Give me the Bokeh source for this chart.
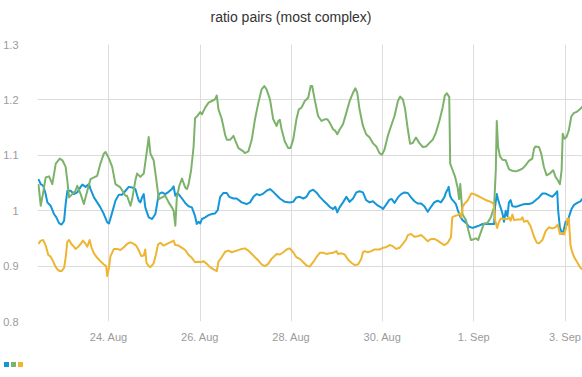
import pandas as pd
from bokeh.plotting import figure
from bokeh.layouts import column
from bokeh.models import (Range1d, FixedTicker, CustomJSTickFormatter, Div)
from bokeh.embed import file_html
from bokeh.resources import INLINE

TITLE = "ratio pairs (most complex)"
START = "2015-08-22 00:00"          # hours below are counted from here
VIEW_START_H = 10.5
VIEW_END_H = 297.2

blue_h = [11.0, 12.2, 13.5, 14.8, 15.7, 17.4, 19.2, 20.4, 21.9, 23.2, 24.5, 25.3, 26.2, 27.9, 29.7, 31.4, 33.2, 34.1, 35.8, 37.6,
          38.4, 40.2, 41.9, 43.6, 45.4, 47.2, 48.1, 49.8, 51.5, 53.3, 55.0, 56.8, 58.5, 60.3, 62.0, 62.9, 63.8, 64.6, 65.5, 66.4,
          67.2, 69.0, 70.8, 72.5, 74.3, 76.0, 77.7, 79.5, 81.2, 82.1, 83.0, 83.8, 84.7, 86.5, 88.2, 90.0, 91.7, 92.6, 93.4, 94.3,
          95.2, 96.1, 97.0, 98.7, 100.5, 102.2, 103.9, 105.3, 106.6, 108.3, 110.1, 111.3, 113.6, 115.3, 117.9, 120.5, 122.3, 124.1,
          125.8, 127.5, 129.3, 131.0, 132.8, 134.5, 136.3, 138.0, 140.6, 143.2, 145.0, 146.7, 148.5, 150.3, 152.0, 153.7, 155.5,
          157.2, 159.0, 160.7, 162.5, 164.2, 166.0, 167.2, 168.2, 169.4, 171.2, 173.0, 174.7, 176.5, 178.2, 179.9, 181.7, 183.4,
          185.2, 186.9, 189.6, 191.3, 192.2, 193.9, 195.7, 196.9, 198.3, 200.1, 201.8, 203.5, 205.3, 207.0, 208.8, 210.5, 212.3,
          214.0, 215.8, 217.5, 219.2, 221.0, 222.7, 224.5, 225.4, 226.3, 226.8, 227.5, 228.4, 229.7, 230.6, 231.5, 232.9, 234.1,
          235.9, 237.6, 239.4, 241.1, 242.8, 244.6, 246.3, 248.1, 249.8, 250.7, 251.2, 252.1, 252.8, 253.5, 254.2, 255.1, 255.9,
          256.8, 257.7, 258.5, 259.4, 260.3, 262.1, 263.8, 265.6, 267.3, 269.0, 270.8, 272.5, 274.3, 276.1, 277.8, 279.5, 281.3,
          283.0, 283.9, 284.4, 285.3, 286.5, 287.4, 288.3, 289.2, 290.0, 291.3, 292.6, 294.4, 296.1, 297.2]
blue_v = [1.057, 1.048, 1.045, 1.03, 1.015, 1.009, 0.994, 0.988, 0.977, 0.975, 0.982, 1.012, 1.036, 1.036, 1.03, 1.033, 1.043, 1.047, 1.043, 1.048,
          1.039, 1.024, 1.015, 1.006, 0.994, 0.979, 0.977, 0.997, 1.018, 1.029, 1.029, 1.036, 1.043, 1.042, 1.039, 1.028, 1.018, 1.015, 1.024, 1.03,
          1.006, 0.988, 0.985, 0.994, 1.03, 1.033, 1.03, 1.034, 1.039, 1.044, 1.027, 1.031, 1.03, 1.022, 1.014, 1.008, 1.006, 0.998, 0.99, 0.976,
          0.98, 0.977, 0.985, 0.988, 0.992, 0.994, 0.995, 1.001, 1.025, 1.032, 1.032, 1.025, 1.022, 1.022, 1.015, 1.012, 1.015, 1.025,
          1.03, 1.028, 1.031, 1.036, 1.039, 1.034, 1.028, 1.022, 1.016, 1.015, 1.016, 1.024, 1.025, 1.022, 1.025, 1.035, 1.038,
          1.033, 1.025, 1.019, 1.013, 1.007, 1.003, 1.007, 0.997, 1.006, 1.015, 1.025, 1.016, 1.022, 1.033, 1.035, 1.033, 1.019,
          1.015, 1.017, 1.009, 1.006, 1.003, 1.011, 1.02, 1.021, 1.014, 1.024, 1.03, 1.033, 1.032, 1.024, 1.017, 1.013, 1.013,
          1.008, 0.998, 1.007, 1.015, 1.018, 1.015, 1.024, 1.033, 1.039, 1.043, 1.027, 1.021, 1.016, 1.012, 1.002, 0.989, 0.983,
          0.978, 0.971, 0.969, 0.971, 0.973, 0.976, 0.976, 0.976, 0.976, 0.976, 1.007, 1.03, 1.02, 1.012, 1.005, 0.995, 0.98,
          1.0, 0.99, 1.015, 1.019, 1.008, 1.007, 1.009, 1.011, 1.012, 1.012, 1.014, 1.019, 1.024, 1.031, 1.031, 1.028, 1.025,
          1.031, 1.035, 1.0, 0.97, 0.958, 0.966, 0.98, 0.975, 0.988, 1.002, 1.01, 1.014, 1.017, 1.022]

green_h = [11.0, 12.2, 13.6, 14.8, 16.6, 18.3, 20.1, 22.2, 23.6, 25.3, 26.2, 27.1, 28.8, 30.5, 31.4, 33.2, 34.9, 36.7, 38.4, 40.2,
           41.9, 43.6, 45.4, 46.3, 48.1, 49.8, 51.5, 54.1, 56.8, 57.6, 59.4, 60.3, 62.0, 62.9, 64.6, 66.4, 68.1, 69.0, 69.9, 71.6,
           72.8, 74.3, 76.0, 77.7, 79.5, 81.2, 82.1, 83.0, 83.8, 85.1, 86.5, 88.2, 89.1, 90.0, 91.3, 92.6, 93.4, 94.3, 96.1, 97.0,
           98.7, 100.5, 102.2, 103.9, 104.8, 105.7, 107.4, 109.2, 110.1, 111.8, 113.6, 114.4, 116.2, 118.8, 119.6, 121.4, 123.2,
           124.9, 126.7, 128.4, 129.8, 131.0, 132.8, 134.5, 136.3, 137.2, 138.0, 138.9, 140.6, 142.4, 143.6, 145.0, 146.7, 148.0,
           149.4, 151.1, 152.9, 154.2, 155.0, 156.3, 158.1, 159.9, 161.6, 163.0, 164.2, 166.0, 167.2, 168.2, 169.4, 171.2, 173.0,
           174.7, 176.5, 177.7, 178.7, 179.9, 181.7, 183.4, 185.2, 186.9, 188.7, 190.4, 191.7, 193.0, 194.8, 196.5, 198.3, 200.1,
           201.3, 202.7, 203.9, 205.3, 206.5, 207.9, 209.6, 211.4, 213.2, 214.9, 216.6, 218.4, 220.1, 221.9, 223.6, 224.8, 225.9,
           227.1, 227.6, 228.9, 230.2, 231.5, 232.3, 232.9, 233.6, 234.1, 235.9, 237.1, 238.5, 239.5, 241.1, 242.3, 243.7, 245.4,
           247.2, 249.0, 250.7, 251.6, 252.1, 252.8, 253.8, 255.1, 256.8, 258.5, 260.3, 262.1, 263.8, 265.6, 267.3, 269.0, 270.8,
           271.7, 272.5, 274.3, 275.5, 276.9, 278.3, 280.0, 281.8, 283.0, 284.2, 285.3, 286.2, 286.8, 287.7, 288.8, 290.0, 291.3,
           292.6, 294.4, 295.8, 297.2]
green_v = [1.048, 1.009, 1.035, 1.06, 1.062, 1.048, 1.085, 1.094, 1.091, 1.079, 1.054, 1.024, 1.03, 1.036, 1.045, 1.03, 1.012, 1.036, 1.057, 1.06,
           1.063, 1.085, 1.103, 1.106, 1.094, 1.079, 1.048, 1.042, 1.027, 1.027, 1.009, 1.021, 1.055, 1.067, 1.061, 1.067, 1.109, 1.133, 1.103, 1.091,
           1.061, 1.021, 1.024, 1.027, 1.015, 1.006, 1.0, 0.973, 1.024, 1.045, 1.058, 1.042, 1.039, 1.048, 1.073, 1.115, 1.167, 1.17, 1.178, 1.174,
           1.186, 1.195, 1.198, 1.201, 1.208, 1.183, 1.166, 1.137, 1.128, 1.128, 1.135, 1.128, 1.113, 1.107, 1.104, 1.107, 1.128,
           1.165, 1.195, 1.219, 1.225, 1.219, 1.201, 1.165, 1.153, 1.162, 1.164, 1.147, 1.125, 1.113, 1.113, 1.128, 1.165, 1.183,
           1.186, 1.198, 1.204, 1.225, 1.225, 1.201, 1.171, 1.162, 1.165, 1.165, 1.159, 1.147, 1.144, 1.138, 1.146, 1.156, 1.177,
           1.198, 1.213, 1.221, 1.213, 1.183, 1.153, 1.138, 1.132, 1.122, 1.116, 1.104, 1.101, 1.11, 1.135, 1.153, 1.171, 1.198,
           1.206, 1.201, 1.183, 1.147, 1.121, 1.122, 1.132, 1.122, 1.115, 1.116, 1.122, 1.128, 1.141, 1.162, 1.186, 1.208, 1.212,
           1.205, 1.085, 1.073, 1.061, 1.042, 1.021, 1.048, 1.016, 0.993, 0.983, 0.965, 0.947, 0.948, 0.95, 0.947, 0.961, 0.977,
           0.978, 0.988, 1.007, 1.074, 1.162, 1.115, 1.098, 1.092, 1.091, 1.075, 1.072, 1.071, 1.073, 1.076, 1.082, 1.09, 1.094,
           1.112, 1.116, 1.115, 1.103, 1.079, 1.064, 1.067, 1.073, 1.061, 1.055, 1.048, 1.073, 1.139, 1.13, 1.133, 1.145, 1.17,
           1.176, 1.179, 1.183, 1.188]

yellow_h = [11.0, 12.2, 13.5, 14.8, 16.2, 17.4, 18.7, 19.8, 21.0, 22.2, 23.2, 24.5, 25.3, 26.2, 27.1, 28.3, 29.7, 30.5, 32.0, 33.2,
            34.4, 35.8, 36.7, 37.9, 38.9, 40.2, 41.9, 43.6, 45.4, 46.6, 47.2, 48.1, 48.9, 50.7, 52.4, 54.1, 55.9, 57.6, 59.4, 61.2,
            62.4, 63.8, 65.1, 66.4, 67.2, 67.8, 69.0, 69.9, 71.6, 72.8, 73.9, 75.1, 76.9, 78.6, 80.3, 82.1, 83.0, 84.7, 86.5, 88.2,
            90.0, 91.7, 93.4, 95.2, 96.6, 97.8, 99.6, 101.3, 103.1, 104.8, 105.7, 107.4, 109.2, 111.0, 112.7, 115.3, 117.9, 119.6,
            121.4, 123.2, 124.9, 126.7, 128.4, 130.1, 131.9, 133.6, 136.3, 138.0, 139.8, 141.5, 143.2, 145.0, 146.7, 148.5, 150.3,
            152.0, 153.7, 155.5, 157.2, 159.0, 160.7, 162.5, 164.2, 166.0, 167.7, 168.6, 170.3, 172.1, 173.8, 175.6, 177.3, 179.1,
            180.8, 181.7, 182.5, 184.3, 186.1, 187.8, 190.4, 192.2, 193.9, 195.7, 197.4, 199.2, 200.9, 202.7, 204.4, 205.3, 207.0,
            208.8, 210.5, 212.3, 214.0, 215.8, 217.5, 219.2, 221.0, 222.7, 224.5, 226.3, 228.0, 228.7, 229.7, 231.5, 232.9, 233.5,
            234.1, 235.0, 236.7, 238.7, 240.2, 242.0, 243.7, 245.4, 247.2, 249.0, 250.5, 251.3, 252.3, 253.1, 254.2, 255.9, 257.7,
            258.5, 259.4, 260.3, 261.2, 263.0, 264.7, 265.6, 266.4, 268.2, 269.9, 271.7, 273.2, 274.3, 276.1, 277.8, 279.5, 281.3,
            283.0, 284.2, 285.3, 286.5, 287.4, 288.3, 289.2, 290.0, 290.9, 291.8, 293.0, 294.7, 296.1, 297.2]
yellow_v = [0.94, 0.946, 0.947, 0.937, 0.92, 0.917, 0.909, 0.9, 0.894, 0.891, 0.891, 0.897, 0.915, 0.944, 0.947, 0.94, 0.935, 0.931, 0.935, 0.94,
            0.946, 0.94, 0.935, 0.947, 0.934, 0.923, 0.915, 0.909, 0.903, 0.9, 0.882, 0.897, 0.918, 0.931, 0.931, 0.929, 0.934, 0.94, 0.943, 0.94,
            0.937, 0.928, 0.918, 0.919, 0.93, 0.906, 0.9, 0.898, 0.905, 0.921, 0.939, 0.942, 0.937, 0.94, 0.943, 0.946, 0.938, 0.937, 0.933, 0.929,
            0.92, 0.915, 0.907, 0.908, 0.907, 0.909, 0.904, 0.898, 0.894, 0.891, 0.908, 0.916, 0.926, 0.928, 0.925, 0.928, 0.931, 0.932,
            0.928, 0.922, 0.916, 0.91, 0.903, 0.9, 0.904, 0.913, 0.922, 0.921, 0.925, 0.93, 0.932, 0.925, 0.916, 0.913, 0.907,
            0.901, 0.899, 0.907, 0.916, 0.924, 0.924, 0.922, 0.923, 0.924, 0.927, 0.922, 0.923, 0.921, 0.912, 0.906, 0.902, 0.903,
            0.913, 0.925, 0.927, 0.925, 0.927, 0.93, 0.93, 0.933, 0.934, 0.938, 0.936, 0.931, 0.933, 0.94, 0.948, 0.956, 0.958,
            0.953, 0.954, 0.956, 0.951, 0.945, 0.949, 0.949, 0.946, 0.942, 0.938, 0.942, 0.952, 0.988, 0.99, 0.992, 0.995, 0.988,
            1.006, 1.012, 1.018, 1.031, 1.03, 1.027, 1.024, 1.021, 1.018, 1.016, 1.012, 0.982, 0.969, 0.978, 0.986, 0.985, 0.985,
            0.988, 0.982, 0.993, 0.983, 0.984, 0.984, 0.988, 0.98, 0.982, 0.972, 0.953, 0.942, 0.941, 0.947, 0.963, 0.97, 0.968,
            0.97, 0.975, 0.958, 0.96, 0.957, 0.965, 0.985, 0.986, 0.937, 0.925, 0.915, 0.905, 0.897, 0.894]

x_tick_dates = ["2015-08-24", "2015-08-26", "2015-08-28", "2015-08-30", "2015-09-01", "2015-09-03"]
x_tick_labels = ["24. Aug", "26. Aug", "28. Aug", "30. Aug", "1. Sep", "3. Sep"]
y_ticks = [0.8, 0.9, 1.0, 1.1, 1.2, 1.3]
y_tick_labels = ["0.8", "0.9", "1", "1.1", "1.2", "1.3"]

COLORS = {"blue": "#1496d8", "green": "#7db26b", "yellow": "#eeb533"}
FONT = "Liberation Sans"
GRID = "#dcdcdc"
LABEL = "#9a9a9a"

base = pd.Timestamp(START)


def to_time(hours):
    return [base + pd.Timedelta(hours=h) for h in hours]


def to_ms(ts):
    return (pd.Timestamp(ts) - pd.Timestamp("1970-01-01")) / pd.Timedelta(milliseconds=1)


# chart title, as a header strip above the plot
title_div = Div(text=f'<div style="width:582px;text-align:center;padding-top:9px;line-height:16px;'
                     f'font-family:\'{FONT}\';font-size:14px;color:#333333;white-space:nowrap">{TITLE}</div>',
                width=582, height=30, margin=0)

p = figure(width=582, height=325, x_axis_type="datetime",
           output_backend="svg", toolbar_location=None,
           x_range=Range1d(base + pd.Timedelta(hours=VIEW_START_H), base + pd.Timedelta(hours=VIEW_END_H)),
           y_range=Range1d(0.8, 1.3),
           min_border_left=35, min_border_right=0, min_border_top=14, min_border_bottom=34)
p.outline_line_color = None
p.background_fill_color = "white"
p.border_fill_color = "white"

LOOKUP = """
    let best = -1, bd = Infinity;
    for (let i = 0; i < tk.length; i++) { const d = Math.abs(tk[i] - tick); if (d < bd) { bd = d; best = i; } }
    return bd < tol ? lab[best] : '';
"""

xt = [to_ms(d) for d in x_tick_dates]
xticker = FixedTicker(ticks=xt)
p.xaxis.ticker = xticker
p.xgrid.ticker = xticker
p.xaxis.formatter = CustomJSTickFormatter(args=dict(tk=xt, lab=x_tick_labels, tol=1000.0), code=LOOKUP)
yticker = FixedTicker(ticks=y_ticks)
p.yaxis.ticker = yticker
p.ygrid.ticker = yticker
p.yaxis.formatter = CustomJSTickFormatter(args=dict(tk=y_ticks, lab=y_tick_labels, tol=1e-6), code=LOOKUP)

for ax in (p.xaxis, p.yaxis):
    ax.axis_line_color = None
    ax.major_tick_line_color = None
    ax.minor_tick_line_color = None
    ax.major_label_text_font = FONT
    ax.major_label_text_font_size = "11px"
    ax.major_label_text_color = LABEL
p.xaxis.major_label_standoff = 3
p.yaxis.major_label_standoff = 13

for g in (p.xgrid, p.ygrid):
    g.grid_line_color = GRID
    g.grid_line_width = 1

series = [("blue", blue_h, blue_v), ("green", green_h, green_v), ("yellow", yellow_h, yellow_v)]
for name, hh, vv in series:
    p.line(to_time(hh), vv, line_color=COLORS[name], line_width=2, line_join="round")

# colour-swatch legend (no labels), as in the original, under the chart
swatch_html = "".join(
    f'<span style="display:inline-block;width:5px;height:5px;margin-right:2px;background:{COLORS[name]}"></span>'
    for name, _, _ in series)
legend_div = Div(text=f'<div style="padding:6px 0 0 4px;line-height:0;font-size:0">{swatch_html}</div>',
                 width=582, height=22, margin=0)

layout = column(title_div, p, legend_div, spacing=0)
open("out.html", "w").write(file_html(layout, INLINE))
